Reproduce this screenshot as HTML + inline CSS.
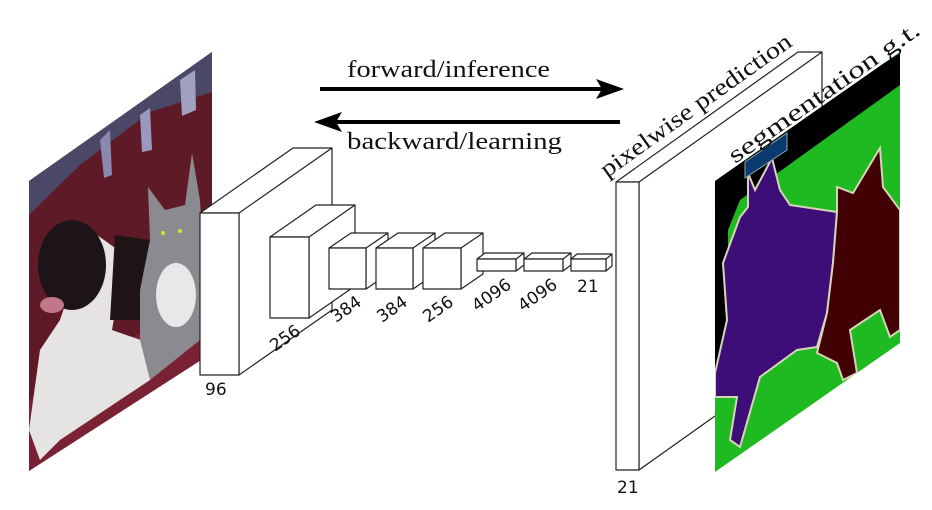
<!DOCTYPE html>
<html><head><meta charset="utf-8"><style>
html,body{margin:0;padding:0;background:#fff;}
svg{display:block;}
.s{font-family:"DejaVu Sans","Liberation Sans",sans-serif;font-size:17px;fill:#111;}
.r{font-family:"Liberation Serif",serif;font-size:24px;fill:#111;}
</style></head><body>
<svg width="932" height="510" viewBox="0 0 932 510" xmlns="http://www.w3.org/2000/svg">
<defs>
<clipPath id="cp"><polygon points="29,181 212,52 212,353 29,471"/></clipPath>
<clipPath id="cs"><polygon points="715,181 900,52 900,343 715,472"/></clipPath>
</defs>
<!-- photo -->
<g clip-path="url(#cp)">
<rect x="0" y="0" width="300" height="500" fill="#5e1a27"/>
<polygon points="29,150 212,30 212,92 150,112 80,165 29,215" fill="#4a4866"/>
<polygon points="100,140 110,130 112,175 104,178" fill="#8a88b0"/>
<polygon points="140,115 150,108 152,150 142,152" fill="#9a98c0"/>
<polygon points="180,80 195,70 196,110 182,116" fill="#a0a0c0"/>
<polygon points="29,400 212,290 212,353 29,471" fill="#7a2233"/>
<polygon points="90,230 125,255 112,330 155,345 150,380 60,440 40,460 29,430 40,350 60,320" fill="#e6e4e2"/>
<polygon points="115,235 150,240 145,320 110,320" fill="#1e1416"/>
<ellipse cx="72" cy="265" rx="34" ry="45" fill="#1c1418"/>
<ellipse cx="52" cy="305" rx="12" ry="8" fill="#c07888"/>
<polygon points="148,187 165,210 185,205 192,153 200,200 205,290 200,340 175,360 150,380 140,340 140,290 150,240" fill="#8a8a90"/>
<ellipse cx="176" cy="295" rx="20" ry="32" fill="#e8e8ea"/>
<circle cx="163" cy="233" r="2" fill="#dd3"/><circle cx="180" cy="231" r="2" fill="#dd3"/>
</g>
<!-- arrows -->
<line x1="320" y1="89" x2="602" y2="89" stroke="#000" stroke-width="4"/>
<polygon points="624,89 596,79 602,89 596,99" fill="#000"/>
<line x1="336" y1="122" x2="620" y2="122" stroke="#000" stroke-width="4"/>
<polygon points="314,122 342,112 336,122 342,132" fill="#000"/>
<text class="r" x="347" y="77" textLength="203" lengthAdjust="spacingAndGlyphs">forward/inference</text>
<text class="r" x="347" y="149" textLength="215" lengthAdjust="spacingAndGlyphs">backward/learning</text>
<!-- boxes -->
<g fill="#fff" stroke="#222" stroke-width="1.2" stroke-linejoin="round">
<path d="M200,213 L293,148 L332,148 L239,213 Z M239,213 L332,148 L332,310 L239,375 Z"/><rect x="200" y="213" width="39" height="162"/>
<path d="M270,237 L316,205 L355,205 L309,237 Z M309,237 L355,205 L355,286 L309,318 Z"/><rect x="270" y="237" width="39" height="81"/>
<path d="M329,248 L351,233 L388,233 L366,248 Z M366,248 L388,233 L388,274 L366,289 Z"/><rect x="329" y="248" width="37" height="41"/>
<path d="M376,248 L398,233 L435,233 L413,248 Z M413,248 L435,233 L435,274 L413,289 Z"/><rect x="376" y="248" width="37" height="41"/>
<path d="M423,248 L445,233 L483,233 L461,248 Z M461,248 L483,233 L483,274 L461,289 Z"/><rect x="423" y="248" width="38" height="41"/>
<path d="M477,259 L485,253 L524,253 L516,259 Z M516,259 L524,253 L524,265 L516,271 Z"/><rect x="477" y="259" width="39" height="12"/>
<path d="M524,259 L532,253 L571,253 L563,259 Z M563,259 L571,253 L571,265 L563,271 Z"/><rect x="524" y="259" width="39" height="12"/>
<path d="M571,259 L577,254 L612,254 L606,259 Z M606,259 L612,254 L612,266 L606,271 Z"/><rect x="571" y="259" width="35" height="12"/>
<path d="M616,182 L798,52 L822,52 L639,182 Z M639,182 L822,52 L822,340 L639,470 Z"/><rect x="616" y="182" width="23" height="288"/>
</g>
<!-- seg -->
<g clip-path="url(#cs)">
<rect x="700" y="40" width="220" height="450" fill="#1fba22"/>
<polygon points="700,181 920,40 920,85 900,85 740,200 728,230 728,375 700,395" fill="#000"/>
<g stroke="#d8d4b8" stroke-width="2">
<polygon points="772,158 780,190 790,205 837,212 833,263 827,313 817,347 797,350 760,377 740,447 730,440 737,397 715,397 715,373 727,320 723,263 740,217 748,207 748,173 755,190" fill="#3e0e78"/>
<polygon points="837,187 853,193 877,153 880,148 883,187 900,210 900,330 890,337 880,310 850,330 857,373 843,380 837,363 817,353 827,313 833,263 837,212" fill="#400004"/>
</g>
</g>
<polygon points="745,178 745,162 787,133 787,150" fill="#0a3a6e" stroke="#8aa" stroke-width="1"/>
<!-- labels -->
<text class="s" x="205" y="395">96</text>
<text class="s" x="617" y="493">21</text>
<text class="s" x="577" y="292">21</text>
<text class="s" transform="translate(275,352) rotate(-35)">256</text>
<text class="s" transform="translate(336,323) rotate(-35)">384</text>
<text class="s" transform="translate(382,323) rotate(-35)">384</text>
<text class="s" transform="translate(428,323) rotate(-35)">256</text>
<text class="s" transform="translate(477,312) rotate(-35)">4096</text>
<text class="s" transform="translate(523,312) rotate(-35)">4096</text>
<text class="r" transform="translate(607,178) rotate(-35.5)" textLength="229" lengthAdjust="spacingAndGlyphs">pixelwise prediction</text>
<text class="r" transform="translate(735,164) rotate(-35)" textLength="228" lengthAdjust="spacingAndGlyphs">segmentation g.t.</text>
</svg>
</body></html>
